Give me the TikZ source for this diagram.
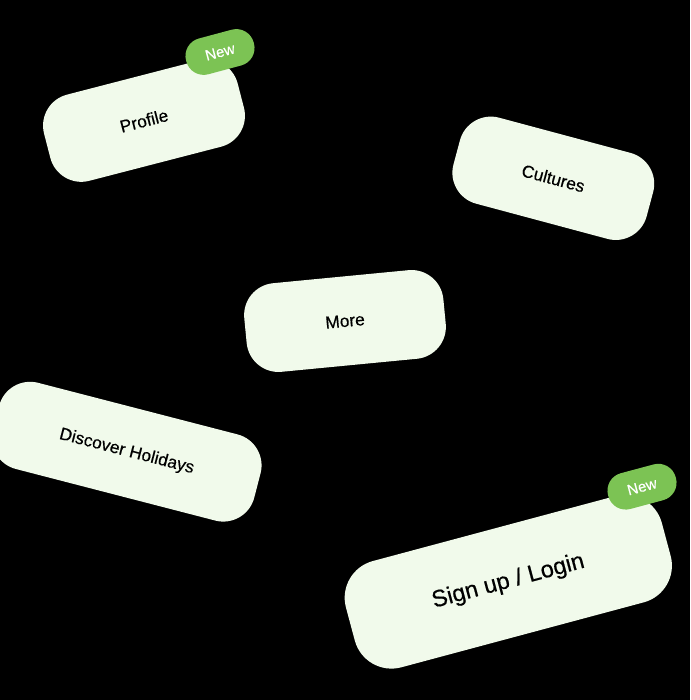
\documentclass[tikz,border=0pt]{standalone}
\usepackage{fontspec}
\setmainfont{Liberation Sans}
\newfontfamily\pillfont{Liberation Sans}[FakeBold=0.5]
\usetikzlibrary{positioning}
\definecolor{pillfill}{RGB}{241,250,235}
\definecolor{badgefill}{RGB}{124,195,84}

\begin{document}
\begin{tikzpicture}[x=1pt,y=1pt,
        pill/.style={fill=pillfill,rounded corners=32pt,minimum width=200pt,minimum height=89pt,inner sep=0pt,text=black,font=\pillfont\fontsize{17.3}{20}\selectfont},
        badge/.style={fill=badgefill,rounded corners=18pt,minimum width=70pt,minimum height=37pt,inner sep=0pt,text=white,font=\pillfont\fontsize{15}{18}\selectfont}]
    		\fill[black] (0,0) rectangle (690,700);
    		\useasboundingbox (0,0) rectangle (690,700);
    		\clip (0,0) rectangle (690,700);
    		\coordinate(P) at (144,579.3);
    		\coordinate(C) at (553.3,521.7);
    		\coordinate(M) at (345,379);
    		\coordinate(D) at (126.7,248.3);
    		\coordinate(S) at (508.3,118.3);
    		\coordinate(N1) at (220,648);
    		\coordinate(N2) at (642,213.3);
    		
    		\node[pill,rotate=14.5] (profile) at (P) {Profile};
    		\node[pill,rotate=-15] (cultures) at (C) {Cultures};
    		\node[pill,rotate=5.5] (more) at (M) {More};
    		\node[pill,rotate=-14.5,minimum width=270pt] (discover) at (D) {Discover Holidays};
    		\node[pill,rotate=15,minimum width=327pt,minimum height=110pt,rounded corners=38pt,font=\pillfont\fontsize{23.5}{28}\selectfont] (signup) at (S) {Sign up / Login};
    		\node[badge,rotate=15] (newprofile) at (N1) {New};
    		\node[badge,rotate=15] (newsignup) at (N2) {New};
    	\end{tikzpicture}
\end{document}
